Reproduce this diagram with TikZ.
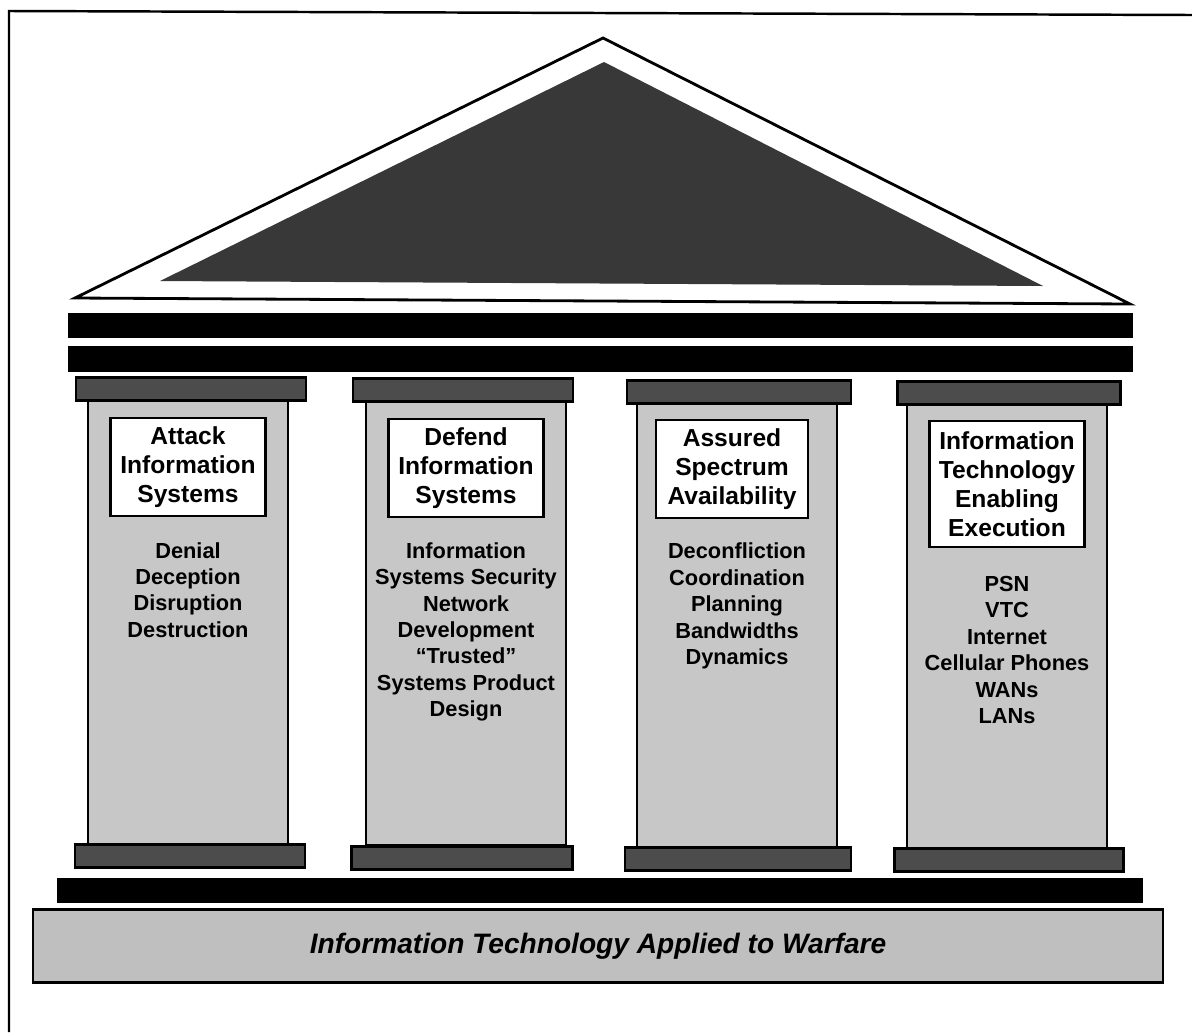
\documentclass[tikz,border=0pt]{standalone}
\usepackage{fontspec}
\setmainfont{Liberation Sans}
\usetikzlibrary{positioning}

\begin{document}
\begin{tikzpicture}[x=0.1mm,y=-0.1mm,
  line width=0.8pt,
  cap node/.style={rectangle,draw,fill=black!70,minimum width=23mm,minimum height=2.3mm,inner sep=0pt},
  shaft node/.style={rectangle,draw,fill=black!22,minimum width=20mm,minimum height=44.5mm,inner sep=0pt},
  title node/.style={rectangle,draw,fill=white,minimum width=15.5mm,minimum height=9.8mm,inner sep=1pt,
    align=center,font=\fontsize{7}{8.25}\selectfont\bfseries},
  list node/.style={align=center,inner sep=0pt,font=\fontsize{6.2}{7.5}\selectfont\bfseries}]

  \useasboundingbox (0,0) rectangle (1192,1032);

  % frame
  \draw[line width=0.7pt] (9,1032) -- (9,11) -- (1192,15);

  % roof
  \draw[thick,fill=white] (603,38) -- (1130,304) -- (75,298) -- cycle;
  \fill[black!78] (604,62) -- (1043,286) -- (160,281) -- cycle;

  % beams
  \fill (68,313) rectangle (1133,338);
  \fill (68,346) rectangle (1133,372);

  % shafts
  \node[shaft node] (shaft1) at (188,622) {};
  \node[shaft node] (shaft2) at (466,623) {};
  \node[shaft node] (shaft3) at (737,625) {};
  \node[shaft node] (shaft4) at (1007,626) {};

  % capitals and bases
  \node[cap node] (cap1) at (191,389) {};
  \node[cap node,minimum width=22mm] (cap2) at (463,390) {};
  \node[cap node,minimum width=22.4mm] (cap3) at (739,392) {};
  \node[cap node,minimum width=22.3mm] (cap4) at (1009,393) {};
  \node[cap node] (base1) at (190,856) {};
  \node[cap node,minimum width=22.1mm] (base2) at (462,858) {};
  \node[cap node,minimum width=22.6mm] (base3) at (738,859) {};
  \node[cap node,minimum width=22.9mm] (base4) at (1009,860) {};

  % floor and foundation
  \fill (57,878) rectangle (1143,903);
  \node[rectangle,draw,fill=black!25,minimum width=113mm,minimum height=7.3mm,
    font=\fontsize{8}{9.5}\selectfont\bfseries\itshape] (base) at (598,946)
    {Information Technology Applied to Warfare};

  % titles
  \node[title node] (t1) at (188,467) {Attack\\Information\\Systems};
  \node[title node] (t2) at (466,468) {Defend\\Information\\Systems};
  \node[title node,minimum width=15.2mm] (t3) at (732,469) {Assured\\Spectrum\\Availability};
  \node[title node,minimum height=12.6mm] (t4) at (1007,484) {Information\\Technology\\Enabling\\Execution};

  % items
  \node[list node] (l1) at (188,590) {Denial\\Deception\\Disruption\\Destruction};
  \node[list node] (l2) at (466,632) {Information\\Systems Security\\Network\\Development\\``Trusted''\\Systems Product\\Design};
  \node[list node] (l3) at (737,606) {Deconfliction\\Coordination\\Planning\\Bandwidths\\Dynamics};
  \node[list node] (l4) at (1007,650) {PSN\\VTC\\Internet\\Cellular Phones\\WANs\\LANs};

\end{tikzpicture}
\end{document}
